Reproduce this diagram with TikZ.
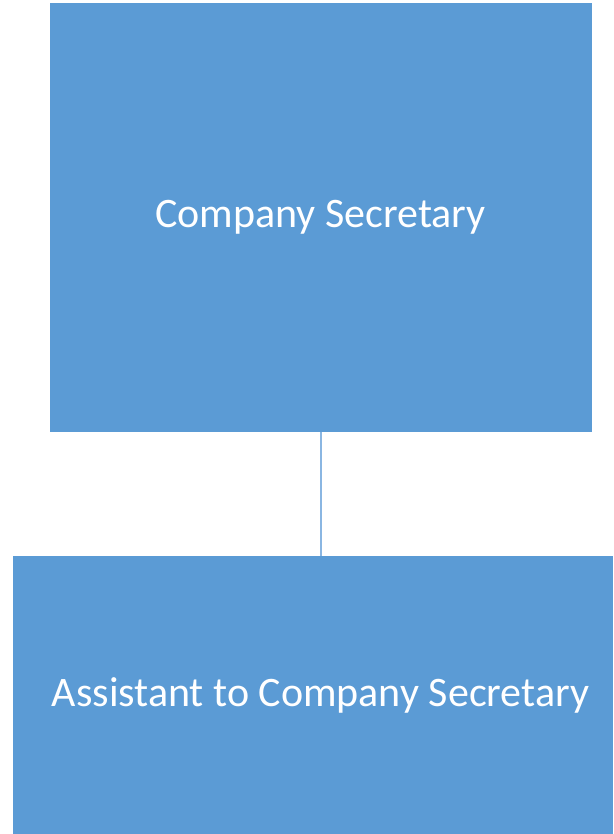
\documentclass[tikz,border=0pt]{standalone}
\usepackage{fontspec}
\setmainfont{Carlito}
\definecolor{boxblue}{HTML}{5B9BD5}
\definecolor{lineblue}{HTML}{8AB6E2}
\begin{document}
\begin{tikzpicture}[x=1pt,y=-1pt,
  orgbox/.style={fill=boxblue,draw=white,line width=0.8pt},
  boxtext/.style={text=white,anchor=base,inner sep=0pt,font=\fontsize{42}{50}\selectfont},
  conn/.style={draw=lineblue,line width=1.6pt}]
\useasboundingbox (0,0) rectangle (613,834);
\path[orgbox] (49.3,2.7) rectangle (592.3,432.3);
\node[boxtext] (top) at (320.5,227) {Company Secretary};
\path[orgbox] (12,555.7) rectangle (613,834);
\node[boxtext] (bot) at (320.5,706) {Assistant to Company Secretary};
\coordinate (ta) at (321,432.3);
\coordinate (bb) at (321,555.7);
\draw[conn] (ta) -- (bb);
\end{tikzpicture}
\end{document}
